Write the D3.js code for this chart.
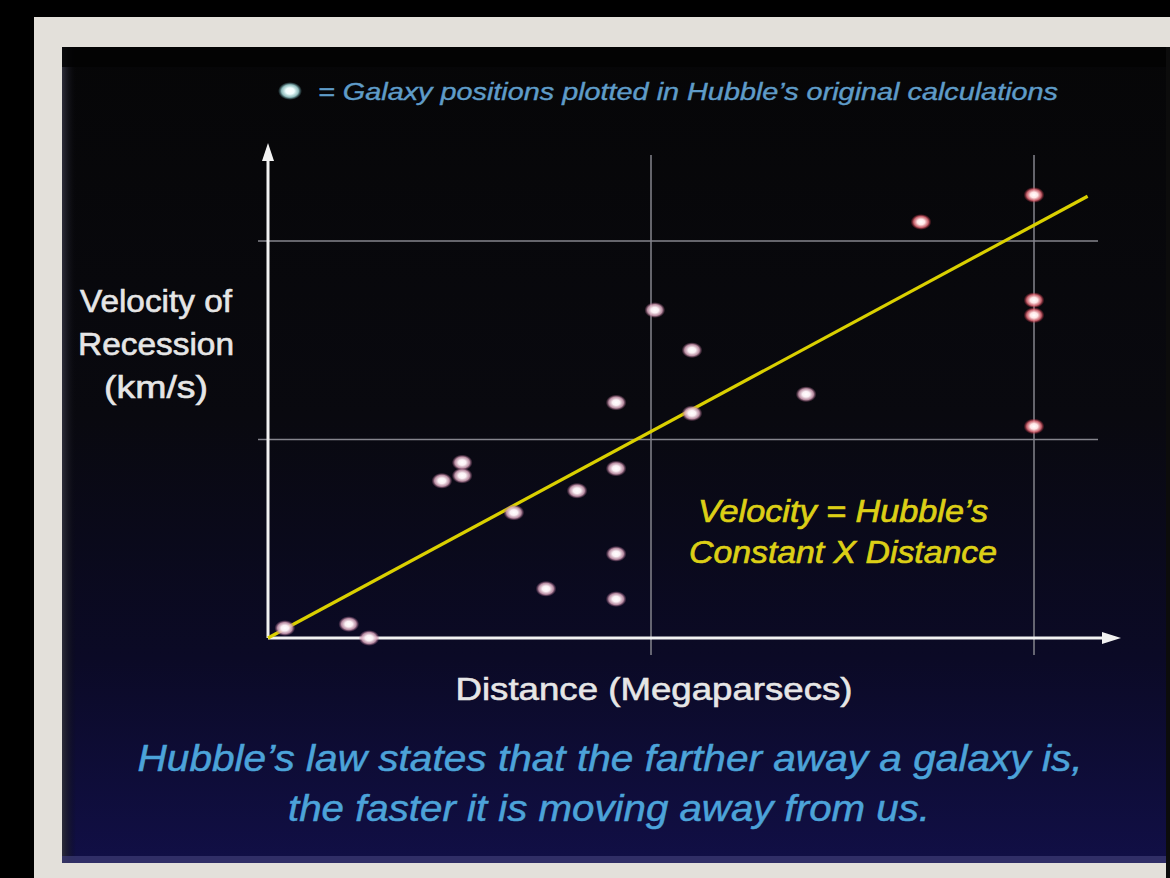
<!DOCTYPE html>
<html>
<head>
<meta charset="utf-8">
<script src="https://cdn.jsdelivr.net/npm/d3@7"></script>
<style>
  html, body { margin: 0; padding: 0; background: #000; }
  svg { display: block; }
</style>
</head>
<body>
<div id="chart"></div>
<script>
// Hubble 1929 style data (distance in Mpc, velocity in km/s)
const distance = [0.044, 0.211, 0.264, 0.454, 0.507, 0.507, 0.642, 0.726, 0.807, 0.909, 0.909, 0.909, 0.909,
                  1.01, 1.107, 1.107, 1.405, 1.705, 2.0, 2.0, 2.0, 2.0];
const velocity = [25, 35, 0, 396, 442, 409, 316, 124, 371, 593, 427, 212, 98,
                  826, 725, 566, 614, 1048, 1116, 851, 813, 533];
const xGrid = [1, 2];
const yGrid = [500, 1000];
const hubbleConst = 520;   // slope of the fitted line
const lineEnd = 2.14;

const W = 1170, H = 878;

const svg = d3.select("#chart").append("svg")
    .attr("width", W)
    .attr("height", H);

const defs = svg.append("defs");

// panel background gradient
const bg = defs.append("linearGradient").attr("id", "panelBg")
    .attr("x1", 0).attr("y1", 0).attr("x2", 0).attr("y2", 1);
bg.append("stop").attr("offset", "0%").attr("stop-color", "#060607");
bg.append("stop").attr("offset", "45%").attr("stop-color", "#09090f");
bg.append("stop").attr("offset", "75%").attr("stop-color", "#0b0a26");
bg.append("stop").attr("offset", "100%").attr("stop-color", "#110f46");

const leftBevel = defs.append("linearGradient").attr("id", "leftBevel")
    .attr("x1", 0).attr("y1", 0).attr("x2", 1).attr("y2", 0);
leftBevel.append("stop").attr("offset", "0%").attr("stop-color", "#2e2e3a");
leftBevel.append("stop").attr("offset", "100%").attr("stop-color", "#0a0a10").attr("stop-opacity", 0);

function dotGrad(id, c0, c1, c2) {
    const g = defs.append("radialGradient").attr("id", id);
    g.append("stop").attr("offset", "0%").attr("stop-color", "#ffffff");
    g.append("stop").attr("offset", "35%").attr("stop-color", c0);
    g.append("stop").attr("offset", "70%").attr("stop-color", c1).attr("stop-opacity", 0.85);
    g.append("stop").attr("offset", "100%").attr("stop-color", c2).attr("stop-opacity", 0);
}
dotGrad("dotWhite", "#faf0f4", "#d8a6bc", "#9a5078");
dotGrad("dotRed", "#ffe6e6", "#e6707c", "#b82034");
dotGrad("dotCyan", "#f0ffff", "#a8dcdc", "#5a9aa4");

// frame + panel
svg.append("rect").attr("x", 34).attr("y", 17).attr("width", W - 34).attr("height", H - 17)
    .attr("fill", "#e3e0da");
svg.append("rect").attr("x", 62).attr("y", 47).attr("width", 1104).attr("height", 816)
    .attr("fill", "url(#panelBg)");
svg.append("rect").attr("x", 62).attr("y", 47).attr("width", 14).attr("height", 816)
    .attr("fill", "url(#leftBevel)");
svg.append("rect").attr("x", 62).attr("y", 47).attr("width", 1104).attr("height", 20)
    .attr("fill", "#020203").attr("opacity", 0.8);
svg.append("rect").attr("x", 62).attr("y", 856).attr("width", 1104).attr("height", 7)
    .attr("fill", "#3b3a72").attr("opacity", 0.75);
svg.append("rect").attr("x", 1166).attr("y", 47).attr("width", 4).attr("height", 831)
    .attr("fill", "#0c0c0c");

// scales
const x = d3.scaleLinear().domain([0, 2]).range([268, 1034]);
const y = d3.scaleLinear().domain([0, 1000]).range([638, 241]);

// grid lines
svg.selectAll(".hgrid").data(yGrid).enter().append("line")
    .attr("class", "hgrid")
    .attr("x1", 258).attr("x2", 1098)
    .attr("y1", d => y(d)).attr("y2", d => y(d))
    .attr("stroke", "#85858d").attr("stroke-width", 1.5);
svg.selectAll(".vgrid").data(xGrid).enter().append("line")
    .attr("class", "vgrid")
    .attr("x1", d => x(d)).attr("x2", d => x(d))
    .attr("y1", 155).attr("y2", 655)
    .attr("stroke", "#85858d").attr("stroke-width", 1.5);

// axes with arrows
const axisCol = "#f2f2f2";
svg.append("line").attr("x1", x(0)).attr("y1", y(0)).attr("x2", x(0)).attr("y2", 158)
    .attr("stroke", axisCol).attr("stroke-width", 3);
svg.append("path").attr("d", `M${x(0)},143 L${x(0) - 6},161 L${x(0) + 6},161 Z`).attr("fill", axisCol);
svg.append("line").attr("x1", x(0)).attr("y1", y(0)).attr("x2", 1104).attr("y2", y(0))
    .attr("stroke", axisCol).attr("stroke-width", 3);
svg.append("path").attr("d", `M1121,${y(0)} L1102,${y(0) - 6} L1102,${y(0) + 6} Z`).attr("fill", axisCol);

// Hubble line
svg.append("line")
    .attr("x1", x(0)).attr("y1", y(0))
    .attr("x2", x(lineEnd)).attr("y2", y(lineEnd * hubbleConst))
    .attr("stroke", "#dad000").attr("stroke-width", 3.2);

// galaxies
svg.selectAll(".galaxy").data(distance).enter().append("ellipse")
    .attr("class", "galaxy")
    .attr("cx", d => x(d))
    .attr("cy", (d, i) => y(velocity[i]))
    .attr("rx", 10.5).attr("ry", 8)
    .attr("fill", d => d >= 1.7 ? "url(#dotRed)" : "url(#dotWhite)");

// legend
svg.append("ellipse").attr("cx", 290).attr("cy", 91).attr("rx", 12).attr("ry", 9)
    .attr("fill", "url(#dotCyan)");
svg.append("text").attr("x", 318).attr("y", 100)
    .attr("textLength", 740).attr("lengthAdjust", "spacingAndGlyphs")
    .attr("font-family", "Liberation Sans, Arial, sans-serif")
    .attr("font-style", "italic").attr("font-size", 23)
    .attr("fill", "#5f9cc8").attr("stroke", "#5f9cc8").attr("stroke-width", 0.4)
    .text("= Galaxy positions plotted in Hubble\u2019s original calculations");

// y label
const yLab = ["Velocity of", "Recession", "(km/s)"];
const yLabW = [152, 156, 104];
svg.selectAll(".ylab").data(yLab).enter().append("text")
    .attr("class", "ylab")
    .attr("x", 156).attr("y", (d, i) => 312 + i * 43)
    .attr("text-anchor", "middle")
    .attr("textLength", (d, i) => yLabW[i]).attr("lengthAdjust", "spacingAndGlyphs")
    .attr("font-family", "Liberation Sans, Arial, sans-serif")
    .attr("font-size", 31).attr("fill", "#e6e6e6")
    .attr("stroke", "#e6e6e6").attr("stroke-width", 0.6)
    .text(d => d);

// x label
svg.append("text").attr("x", 654).attr("y", 700)
    .attr("text-anchor", "middle")
    .attr("textLength", 397).attr("lengthAdjust", "spacingAndGlyphs")
    .attr("font-family", "Liberation Sans, Arial, sans-serif")
    .attr("font-size", 32).attr("fill", "#e6e6e6")
    .attr("stroke", "#e6e6e6").attr("stroke-width", 0.6)
    .text("Distance (Megaparsecs)");

// equation
const eq = ["Velocity = Hubble\u2019s", "Constant X Distance"];
const eqW = [290, 308];
svg.selectAll(".eq").data(eq).enter().append("text")
    .attr("class", "eq")
    .attr("x", 843).attr("y", (d, i) => 522 + i * 41)
    .attr("text-anchor", "middle")
    .attr("textLength", (d, i) => eqW[i]).attr("lengthAdjust", "spacingAndGlyphs")
    .attr("font-family", "Liberation Sans, Arial, sans-serif")
    .attr("font-style", "italic").attr("font-size", 32)
    .attr("fill", "#dccf16").attr("stroke", "#dccf16").attr("stroke-width", 0.7)
    .text(d => d);

// caption
const cap = ["Hubble\u2019s law states that the farther away a galaxy is,", "the faster it is moving away from us."];
const capW = [945, 642];
svg.selectAll(".cap").data(cap).enter().append("text")
    .attr("class", "cap")
    .attr("x", (d, i) => i === 0 ? 610 : 609).attr("y", (d, i) => 771 + i * 50)
    .attr("text-anchor", "middle")
    .attr("textLength", (d, i) => capW[i]).attr("lengthAdjust", "spacingAndGlyphs")
    .attr("font-family", "Liberation Sans, Arial, sans-serif")
    .attr("font-style", "italic").attr("font-size", 36)
    .attr("fill", "#4ca3d9").attr("stroke", "#4ca3d9").attr("stroke-width", 0.5)
    .text(d => d);
</script>
</body>
</html>
